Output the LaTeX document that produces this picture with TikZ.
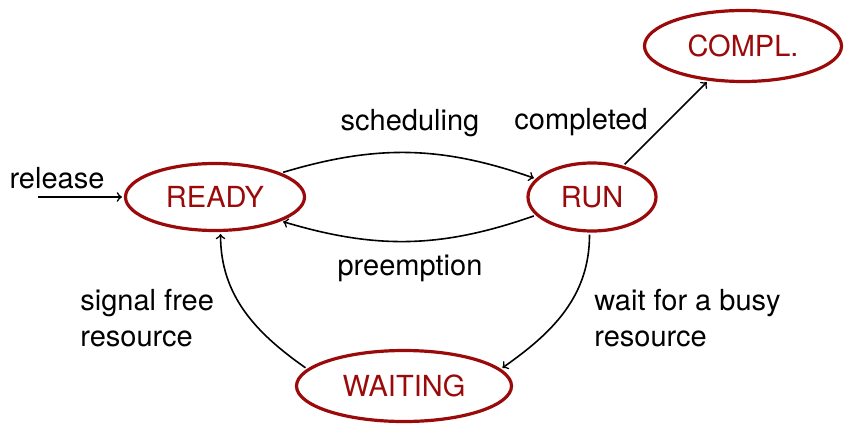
\documentclass[tikz,border=0pt]{standalone}
\usepackage{fontspec}
\setmainfont{TeX Gyre Heros}
\usetikzlibrary{shapes.geometric}
\definecolor{statered}{RGB}{155,10,10}
\begin{document}
\begin{tikzpicture}[x=0.5pt,y=0.5pt,
  every node/.style={font=\fontsize{14.5}{18}\selectfont},
  state/.style={ellipse,draw=statered,line width=1.6pt,text=statered,inner sep=0pt},
  edge/.style={->,line width=0.8pt,shorten >=1pt,shorten <=1pt},
  lbl/.style={inner sep=0pt}]
\useasboundingbox (0,0) rectangle (844,424);
\node[state,minimum width=89.5pt,minimum height=33.5pt] (ready) at (215,227) {READY};
\node[state,minimum width=64pt,minimum height=34pt] (run) at (592,227) {RUN};
\node[state,minimum width=98.5pt,minimum height=35.5pt] (compl) at (743,378) {COMPL.};
\node[state,minimum width=107.5pt,minimum height=35.5pt] (waiting) at (404,38) {WAITING};
\coordinate (rel) at (36,227);
\draw[edge] (rel) -- (ready.west);
\node[lbl] (lrel) at (57,246) {release};
\draw[edge] (ready.20) to[bend left=18] (run.162);
\node[lbl] (lsched) at (410,301) {scheduling};
\draw[edge] (run.198) to[bend left=18] (ready.-20);
\node[lbl] (lpre) at (410,156) {preemption};
\draw[edge] (run.45) -- (compl.225);
\node[lbl] (lcomp) at (581,302) {completed};
\draw[edge] (run.266) to[out=-90,in=35] (waiting.10);
\node[lbl,align=left,anchor=west] (lwait) at (594,106) {wait for a busy\\resource};
\draw[edge] (waiting.170) to[out=145,in=-90] (ready.279);
\node[lbl,align=left,anchor=west] (lsig) at (80,106) {signal free\\resource};
\end{tikzpicture}
\end{document}
